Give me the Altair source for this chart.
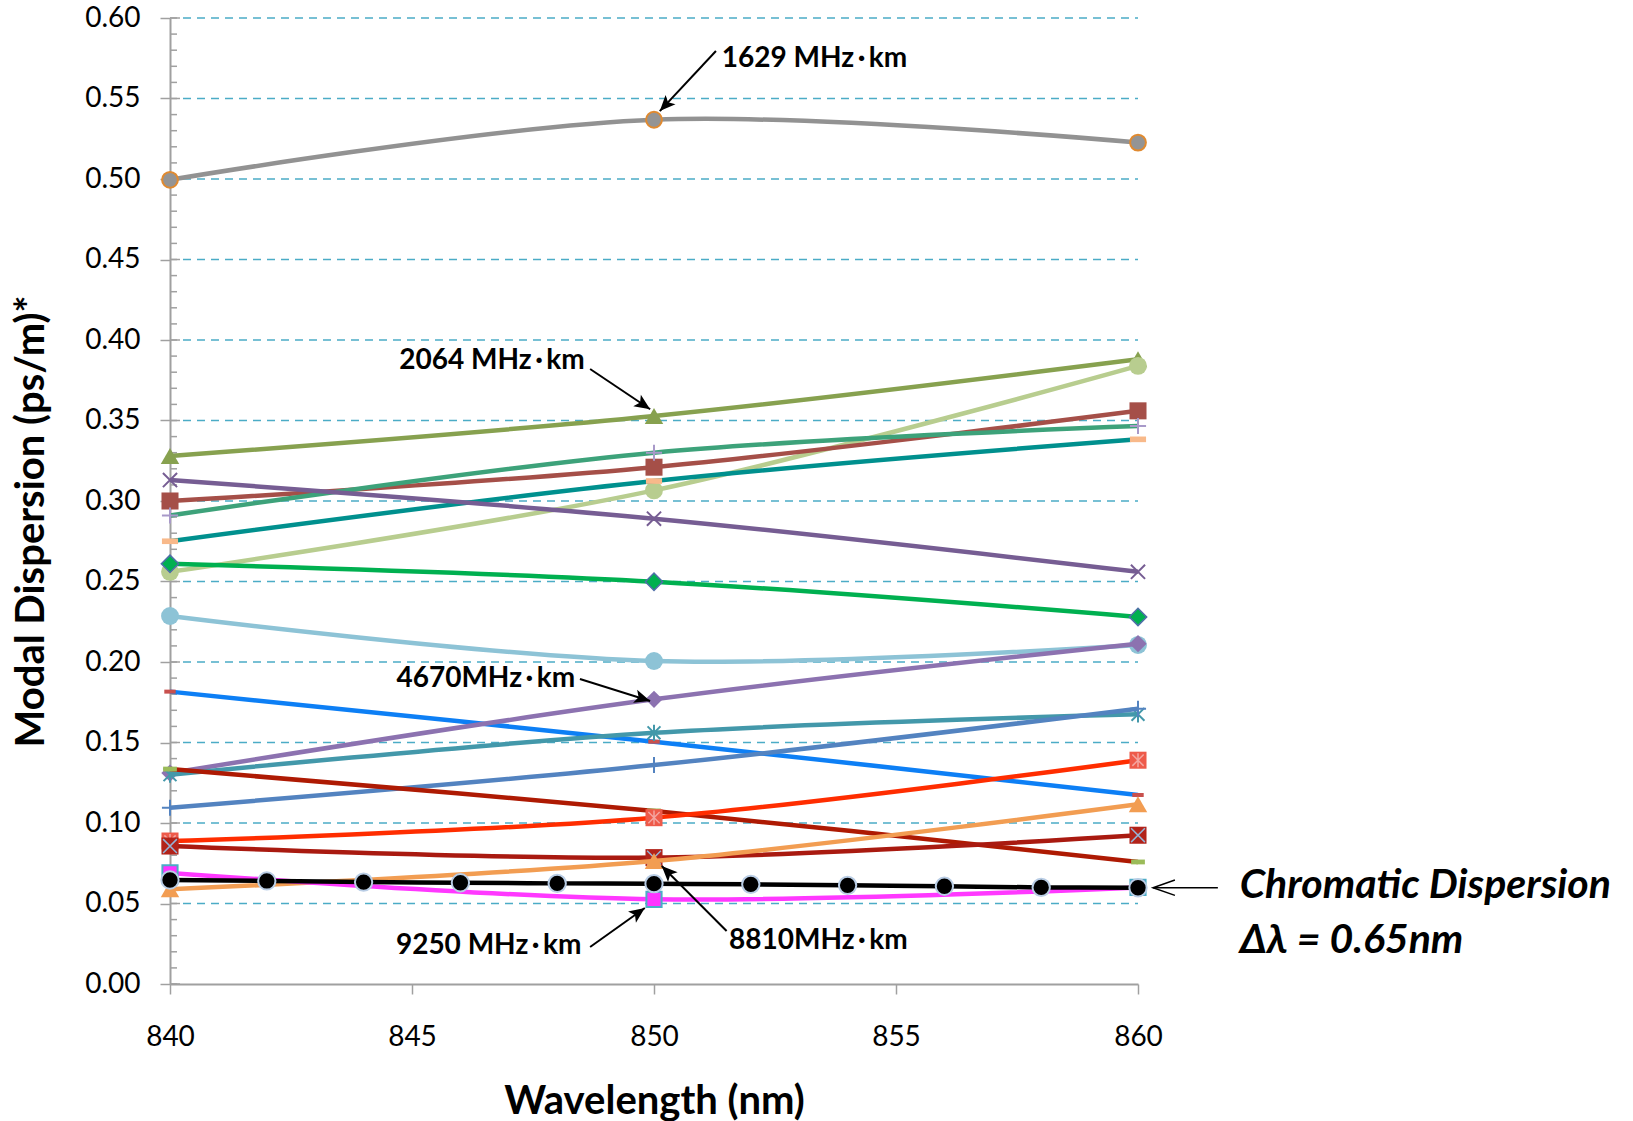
import math
import altair as alt
import pandas as pd

# ---------------- data ----------------
wl3 = [840, 850, 860]

s_1629 = [0.4995, 0.5368, 0.5226]          # gray, annotated 1629 MHz·km
s_2064 = [0.328, 0.3528, 0.388]            # olive, annotated 2064 MHz·km
s_lgreen = [0.256, 0.3066, 0.3839]
s_brown = [0.300, 0.321, 0.356]
s_seagreen = [0.291, 0.330, 0.3466]
s_teal = [0.275, 0.3124, 0.3383]
s_purple = [0.313, 0.289, 0.256]
s_green = [0.261, 0.2499, 0.228]
s_lblue = [0.2286, 0.2006, 0.2106]
s_blue = [0.1816, 0.1505, 0.1174]
s_4670 = [0.131, 0.1768, 0.2114]           # lavender, annotated 4670MHz·km
s_tealblue = [0.130, 0.156, 0.1675]
s_steel = [0.1095, 0.136, 0.171]
s_darkred1 = [0.1335, 0.1075, 0.0758]
s_red = [0.0888, 0.1033, 0.139]
s_8810 = [0.0857, 0.0785, 0.0924]          # dark red, annotated 8810MHz·km
s_orange = [0.0588, 0.0764, 0.1116]
s_9250 = [0.069, 0.0526, 0.060]            # magenta, annotated 9250 MHz·km

wl_cd = [840, 842, 844, 846, 848, 850, 852, 854, 856, 858, 860]
s_cd = [0.0646, 0.0640, 0.0633, 0.0629, 0.0625, 0.0623, 0.0619, 0.0613, 0.0607, 0.0600, 0.0598]

grid_values = [0.05, 0.10, 0.15, 0.20, 0.25, 0.30, 0.35, 0.40, 0.45, 0.50, 0.55, 0.60]
minor_values = [i / 100 for i in range(61)]
x_ticks = [840, 845, 850, 855, 860]
y_ticks = [0.0, 0.05, 0.10, 0.15, 0.20, 0.25, 0.30, 0.35, 0.40, 0.45, 0.50, 0.55, 0.60]

# annotations (data coordinates)
DOT = "\u2009\u00b7\u2009"
ann_text = ["1629 MHz" + DOT + "km", "2064 MHz" + DOT + "km", "4670MHz" + DOT + "km",
            "9250 MHz" + DOT + "km", "8810MHz" + DOT + "km"]
ann_wl = [851.40, 848.57, 848.37, 848.50, 851.55]
ann_v = [0.5745, 0.387, 0.1894, 0.0236, 0.0267]
ann_align = ["left", "right", "right", "right", "left"]

arr_wl0 = [851.28, 848.68, 848.47, 848.68, 851.50]
arr_v0 = [0.5795, 0.382, 0.1894, 0.023, 0.0329]
arr_wl1 = [850.12, 849.92, 849.92, 849.81, 850.16]
arr_v1 = [0.5422, 0.357, 0.1758, 0.0472, 0.0733]

cd_text = ["Chromatic Dispersion", "\u0394\u03bb = 0.65nm"]
cd_wl = [862.10, 862.10]
cd_v = [0.0609, 0.0267]
cd_arr_wl0 = [861.65]
cd_arr_wl1 = [860.31]
cd_arr_v = [0.0598]

# ---------------- layout ----------------
W, H = 968, 966
PX_NM = W / 20.0
PX_V = H / 0.6

FONT = "Lato"

def X(field="wl"):
    return alt.X(f"{field}:Q", scale=alt.Scale(domain=[840, 860], nice=False, zero=False),
                 axis=alt.Axis(values=x_ticks, title="Wavelength (nm)", grid=False,
                               domainColor="#A0A0A0", domainWidth=2, tickColor="#A0A0A0",
                               tickWidth=1.5, tickSize=10, labelFont=FONT, labelFontSize=28,
                               labelColor="black", labelPadding=29, format="d", labelFlush=False,
                               titleFont=FONT, titleFontSize=40, titleFontWeight="bold",
                               titleColor="black", titleY=117, titleBaseline="middle"))

def Y(field="v"):
    return alt.Y(f"{field}:Q", scale=alt.Scale(domain=[0, 0.6], nice=False, zero=True),
                 axis=alt.Axis(values=y_ticks, title="Modal Dispersion (ps/m)*", grid=False,
                               domainColor="#A0A0A0", domainWidth=2, tickColor="#A0A0A0",
                               tickWidth=1.5, tickSize=10, labelFont=FONT, labelFontSize=28,
                               labelColor="black", labelPadding=20, format=".2f", labelFlush=False,
                               titleFont=FONT, titleFontSize=40, titleFontWeight="bold",
                               titleColor="black", titleAngle=270, titleX=-139, titleY=503,
                               titleAlign="center", titleBaseline="middle"))

layers = []

# grid (dashed) and inside tick marks of the y axis
grid_df = pd.DataFrame({"v": grid_values})
layers.append(alt.Chart(grid_df).mark_rule(color="#4BACC6", strokeWidth=1.5, strokeDash=[8, 6])
              .encode(y=Y(), x=alt.value(13), x2=alt.value(W)))
minor_df = pd.DataFrame({"v": minor_values})
layers.append(alt.Chart(minor_df).mark_rule(color="#A0A0A0", strokeWidth=1.5)
              .encode(y=Y(), x=alt.value(0), x2=alt.value(7)))
major_df = pd.DataFrame({"v": y_ticks})
layers.append(alt.Chart(major_df).mark_rule(color="#A0A0A0", strokeWidth=1.5)
              .encode(y=Y(), x=alt.value(0), x2=alt.value(10)))

XS = "M-1,-1L1,1M-1,1L1,-1"
PLUS = "M-1,0L1,0M0,-1L0,1"
AST = "M-0.8,-0.8L0.8,0.8M-0.8,0.8L0.8,-0.8M0,-1L0,1"
DASH = "M-1,-0.35L1,-0.35L1,0.35L-1,0.35Z"


def filled(shape, fill, size, stroke=None, sw=0):
    d = dict(shape=shape, size=size, filled=True, fill=fill, opacity=1, fillOpacity=1)
    if stroke:
        d.update(stroke=stroke, strokeWidth=sw)
    else:
        d.update(strokeWidth=0)
    return d


def stroked(shape, color, size, sw=2):
    return dict(shape=shape, size=size, filled=False, stroke=color, strokeWidth=sw, opacity=1)


series = [
    (wl3, s_1629, "#929292", [filled("circle", "#949494", 250, "#E08A30", 2)]),
    (wl3, s_2064, "#87A14F", [filled("triangle-up", "#87A14F", 340)]),
    (wl3, s_lgreen, "#B8CD8F", [filled("circle", "#B8CD8F", 320)]),
    (wl3, s_brown, "#A54F48", [filled("square", "#A54F48", 290)]),
    (wl3, s_seagreen, "#3DA27A", [stroked(PLUS, "#A899C9", 260, 2)]),
    (wl3, s_teal, "#00908E", [filled(DASH, "#F8B98A", 260)]),
    (wl3, s_purple, "#765D93", [stroked(XS, "#765D93", 200, 2)]),
    (wl3, s_green, "#00B050", [filled("diamond", "#00B050", 300, "#4F6EA8", 1.5)]),
    (wl3, s_lblue, "#8DC3D6", [filled("circle", "#8DC3D6", 320)]),
    (wl3, s_blue, "#0D7FF5", [filled(DASH, "#C8504D", 130)]),
    (wl3, s_4670, "#8C72B0", [filled("diamond", "#8C72B0", 300)]),
    (wl3, s_tealblue, "#4398AA", [stroked(AST, "#4398AA", 260, 2)]),
    (wl3, s_steel, "#5383C0", [stroked(PLUS, "#5383C0", 260, 2)]),
    (wl3, s_darkred1, "#AE1A03", [filled(DASH, "#9BBB59", 190)]),
    (wl3, s_red, "#FF2D00", [filled("square", "#EE5A4A", 290), stroked(AST, "#F4A5A0", 200, 1.5)]),
    (wl3, s_8810, "#A91A10", [filled("square", "#B2231A", 290), stroked(XS, "#95B3D7", 190, 1.5)]),
    (wl3, s_orange, "#F29D52", [filled("triangle-up", "#F29D52", 340)]),
    (wl3, s_9250, "#FF38FF", [filled("square", "#FF33FF", 230, "#4BACC6", 2)]),
    (wl_cd, s_cd, "#000000", [filled("circle", "#000000", 300, "#B9CDE5", 2)]),
]

for xs, ys, color, markers in series:
    df = pd.DataFrame({"wl": xs, "v": ys})
    base = alt.Chart(df)
    layers.append(base.mark_line(interpolate="cardinal", color=color, strokeWidth=4.5)
                  .encode(x=X(), y=Y()))
    for m in markers:
        layers.append(base.mark_point(**m).encode(x=X(), y=Y()))

# annotation texts
ann_df = pd.DataFrame({"wl": ann_wl, "v": ann_v, "t": ann_text, "al": ann_align})
for al in ["left", "right"]:
    layers.append(alt.Chart(ann_df[ann_df["al"] == al])
                  .mark_text(align=al, baseline="middle", font=FONT, fontWeight="bold",
                             fontSize=28, color="black")
                  .encode(x=X(), y=Y(), text="t:N"))

# arrows
angles = []
for a, b, c, d in zip(arr_wl0, arr_v0, arr_wl1, arr_v1):
    dx = (c - a) * PX_NM
    dy = -(d - b) * PX_V
    angles.append(math.degrees(math.atan2(dx, -dy)) % 360)
arr_df = pd.DataFrame({"wl": arr_wl0, "v": arr_v0, "wl1": arr_wl1, "v1": arr_v1, "ang": angles})
layers.append(alt.Chart(arr_df).mark_rule(color="black", strokeWidth=2)
              .encode(x=X(), y=Y(), x2="wl1:Q", y2="v1:Q"))
HEAD = "M0,0L-0.65,1.5L0,1.15L0.65,1.5Z"
head_df = pd.DataFrame({"wl": arr_wl1, "v": arr_v1, "ang": angles})
layers.append(alt.Chart(head_df).mark_point(shape=HEAD, size=440, filled=True, color="black",
                                            opacity=1, strokeWidth=0)
              .encode(x=X(), y=Y(), angle=alt.Angle("ang:Q", scale=None)))

# chromatic dispersion label and arrow
cd_df = pd.DataFrame({"wl": cd_wl, "v": cd_v, "t": cd_text})
layers.append(alt.Chart(cd_df).mark_text(align="left", baseline="middle", font=FONT,
                                         fontWeight="bold", fontStyle="italic", fontSize=41,
                                         color="black")
              .encode(x=X(), y=Y(), text="t:N"))
cd_arr_df = pd.DataFrame({"wl": cd_arr_wl0, "v": cd_arr_v, "wl1": cd_arr_wl1})
layers.append(alt.Chart(cd_arr_df).mark_rule(color="black", strokeWidth=1.5)
              .encode(x=X(), y=Y(), x2="wl1:Q"))
cd_head_df = pd.DataFrame({"wl": cd_arr_wl1, "v": cd_arr_v, "ang": [270]})
layers.append(alt.Chart(cd_head_df).mark_point(shape="M-0.7,2L0,0L0.7,2", size=480, filled=False,
                                               stroke="black", strokeWidth=1.5, opacity=1)
              .encode(x=X(), y=Y(), angle=alt.Angle("ang:Q", scale=None)))

chart = alt.layer(*layers).properties(
    width=W, height=H,
    autosize=alt.AutoSizeParams(type="none"),
    padding={"left": 170, "top": 18, "right": 495, "bottom": 137},
    background="white",
).configure_view(stroke=None)

chart.save("out.html", embed_options={"renderer": "svg", "actions": False})
